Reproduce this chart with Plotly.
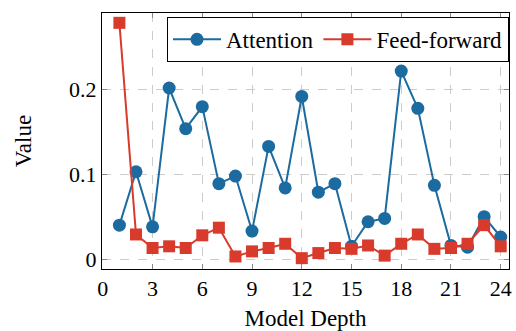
import plotly.graph_objects as go

depth = list(range(1, 25))
attention = [0.040, 0.103, 0.038, 0.202, 0.154, 0.180, 0.089, 0.098, 0.033, 0.133,
             0.084, 0.192, 0.079, 0.089, 0.015, 0.044, 0.048, 0.222, 0.178, 0.087,
             0.016, 0.014, 0.050, 0.026]
feed_forward = [0.279, 0.029, 0.013, 0.015, 0.013, 0.028, 0.037, 0.003, 0.009, 0.013,
                0.018, 0.001, 0.007, 0.013, 0.012, 0.016, 0.004, 0.018, 0.029, 0.012,
                0.013, 0.018, 0.040, 0.015]
x_ticks = [0, 3, 6, 9, 12, 15, 18, 21, 24]
y_ticks = [0, 0.1, 0.2]
y_tick_labels = ["0", "0.1", "0.2"]

blue = "#1b6aa0"
red = "#d83b2c"
font_family = "Liberation Serif"

fig = go.Figure()
fig.add_trace(go.Scatter(x=depth, y=attention, mode="lines+markers", name="Attention",
                         line=dict(color=blue, width=2),
                         marker=dict(symbol="circle", size=13, color=blue)))
fig.add_trace(go.Scatter(x=depth, y=feed_forward, mode="lines+markers", name="Feed-forward",
                         line=dict(color=red, width=2),
                         marker=dict(symbol="square", size=12, color=red)))

axis_common = dict(showline=True, linecolor="black", linewidth=1, mirror="allticks",
                   ticks="inside", ticklen=5, tickcolor="#888888",
                   showgrid=True, gridcolor="#cccccc", griddash="dash", gridwidth=1,
                   zeroline=False, tickfont=dict(size=22, color="black"))

fig.update_xaxes(range=[-0.05, 24.5], tickvals=x_ticks,
                 title=dict(text="Model Depth", font=dict(size=23, color="black"), standoff=9),
                 **axis_common)
fig.update_yaxes(range=[-0.0118, 0.2906], tickvals=y_ticks, ticktext=y_tick_labels,
                 title=dict(text="Value", font=dict(size=23, color="black"), standoff=31),
                 **axis_common)

fig.update_layout(
    width=516, height=331,
    margin=dict(l=102, r=4, t=13, b=61),
    paper_bgcolor="white", plot_bgcolor="white",
    font=dict(family=font_family, color="black"),
    legend=dict(orientation="h", x=1.0, xanchor="right", y=0.985, yanchor="top",
                bordercolor="black", borderwidth=1, bgcolor="white",
                font=dict(size=23, color="black"), itemwidth=48),
    showlegend=True,
)

fig.write_html("out.html", config={"displayModeBar": False},
               post_script="document.body.style.margin='0';")
